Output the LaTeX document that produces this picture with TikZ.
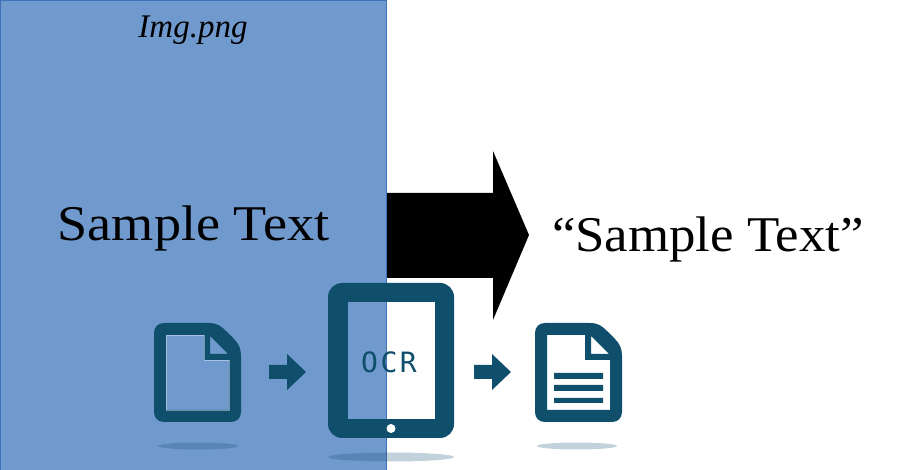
\documentclass[tikz,border=0pt]{standalone}
\usepackage{fontspec}
\setmainfont{Liberation Serif}
\newfontfamily\ocrfont[LetterSpace=9]{DejaVu Sans Mono}
\definecolor{icondark}{HTML}{0F4F6C}
\definecolor{panel}{HTML}{7099CE}
\definecolor{panelline}{HTML}{3F72B5}
\tikzset{
  x=1pt,y=-1pt,
  shadowblob/.style={fill=icondark,opacity=.25,draw=none},
  iconshape/.style={fill=icondark,draw=none,even odd rule},
  flowshape/.style={fill=icondark,draw=none},
  bigtext/.style={inner sep=0pt,anchor=base,transform shape,font=\fontsize{50}{54}\selectfont},
  nametext/.style={inner sep=0pt,anchor=base,font=\itshape\fontsize{33}{36}\selectfont},
}
\newcommand{\docbody}[1]{%
  \begin{scope}[shift={(#1,0)}]
  \fill[iconshape] (154,333) .. controls (154,327) and (158,323) .. (164,323) -- (209,323)
    .. controls (218,323) and (222,327) .. (226,331) -- (234,339)
    .. controls (239,344) and (241,349) .. (241,356) -- (241,412)
    .. controls (241,418) and (237,422) .. (231,422) -- (164,422)
    .. controls (158,422) and (154,418) .. (154,412) -- cycle
    (166,335) -- (204,335) -- (204,360) -- (229,360) -- (229,410) -- (166,410) -- cycle
    (210,336) -- (228,354) -- (210,354) -- cycle;
  \end{scope}}
\newcommand{\flowarrow}[1]{%
  \fill[flowshape] (#1,365) -- (#1+18,365) -- (#1+18,354) -- (#1+37,372) -- (#1+18,390) -- (#1+18,379) -- (#1,379) -- cycle;}
\begin{document}
\begin{tikzpicture}
\useasboundingbox (0,0) rectangle (914,470);
\fill[white] (0,0) rectangle (914,470);
\fill[black] (386,193) -- (493,193) -- (493,151) -- (529,235) -- (493,320) -- (493,278) -- (386,278) -- cycle;
\fill[panel] (0,0) rectangle (386,470);
\draw[panelline,line width=.8pt] (0,470) -- (0,.4) -- (386.5,.4) -- (386.5,470);
\fill[shadowblob] (198,446) ellipse[x radius=40,y radius=3.5];
\fill[shadowblob] (391,457) ellipse[x radius=63,y radius=4.5];
\fill[shadowblob] (577,446) ellipse[x radius=40,y radius=3.5];
\docbody{0}
\draw[white,opacity=.4,line width=.5pt] (166,335) -- (204,335) -- (204,360) -- (229,360) -- (229,410) -- (166,410) -- cycle;
\docbody{381}
\fill[icondark] (554,373) rectangle (603,379) (554,385) rectangle (603,391) (554,398) rectangle (603,403);
\flowarrow{269}
\flowarrow{474}
\fill[icondark,rounded corners=14pt] (328,283) rectangle (454,438);
\fill[panel] (348,302) rectangle (386,419);
\fill[white] (386.9,302) rectangle (435,419);
\fill[panelline] (386,302) rectangle (386.9,419);
\fill[white] (391,428.5) circle (4.5);
\node[font=\ocrfont\fontsize{28}{30}\selectfont,text=icondark,inner sep=0pt] (ocr) at (389,362.5) {OCR};
\node[bigtext,xscale=1.084] (left) at (193.5,241) {Sample Text};
\node[bigtext,xscale=1.057] (right) at (708,252) {“Sample Text”};
\node[nametext] (name) at (193,37.5) {Img.png};
\end{tikzpicture}
\end{document}
